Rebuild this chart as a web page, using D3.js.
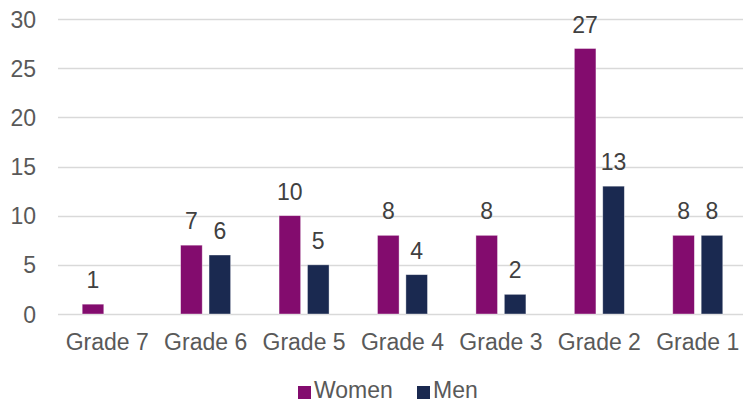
<!doctype html>
<html>
<head>
<script src="https://d3js.org/d3.v7.min.js"></script>
<style>
  body { margin: 0; background: #fff; }
  text { font-family: "Liberation Sans", Arial, sans-serif; }
</style>
</head>
<body>
<div id="chart"></div>
<script>
var categories = ["Grade 7", "Grade 6", "Grade 5", "Grade 4", "Grade 3", "Grade 2", "Grade 1"];
var series = ["Women", "Men"];
var women = [1, 7, 10, 8, 8, 27, 8];
var men = [null, 6, 5, 4, 2, 13, 8];
var yTicks = [0, 5, 10, 15, 20, 25, 30];
var colors = {"Women": "#830c6e", "Men": "#1a2950"};

var width = 743, height = 404;

var svg = d3.select("#chart").append("svg")
    .attr("width", width)
    .attr("height", height);

var x0 = d3.scaleBand().domain(categories).range([58, 747]);
var x1 = d3.scaleBand().domain(series).range([24.2, 74.2]).paddingInner(0.24);
var y = d3.scaleLinear().domain([0, 30]).range([314, 19]);

// grid
svg.append("g").selectAll("line")
    .data(yTicks)
    .enter().append("line")
    .attr("x1", 58).attr("x2", width)
    .attr("y1", function (d) { return Math.round(y(d)) + 0.5; })
    .attr("y2", function (d) { return Math.round(y(d)) + 0.5; })
    .attr("stroke", "#d9d9d9")
    .attr("stroke-width", 1.3);

// y labels
svg.append("g").selectAll("text")
    .data(yTicks)
    .enter().append("text")
    .attr("x", 36)
    .attr("y", function (d) { return y(d) + 8.5; })
    .attr("text-anchor", "end")
    .attr("font-size", "23px")
    .attr("fill", "#595959")
    .text(function (d) { return d; });

// x labels
svg.append("g").selectAll("text")
    .data(categories)
    .enter().append("text")
    .attr("x", function (d) { return x0(d) + x0.bandwidth() / 2; })
    .attr("y", 350)
    .attr("text-anchor", "middle")
    .attr("font-size", "23px")
    .attr("fill", "#595959")
    .text(function (d) { return d; });

var rows = [];
categories.forEach(function (c, i) {
    rows.push({cat: c, s: "Women", v: women[i]});
    rows.push({cat: c, s: "Men", v: men[i]});
});
rows = rows.filter(function (d) { return d.v != null; });

svg.append("g").selectAll("rect")
    .data(rows)
    .enter().append("rect")
    .attr("x", function (d) { return x0(d.cat) + x1(d.s); })
    .attr("y", function (d) { return y(d.v); })
    .attr("width", x1.bandwidth())
    .attr("height", function (d) { return y(0) - y(d.v); })
    .attr("fill", function (d) { return colors[d.s]; })
    .attr("stroke", "#ffffff")
    .attr("stroke-opacity", 0.5)
    .attr("stroke-width", 0.75);

svg.append("g").selectAll("text")
    .data(rows)
    .enter().append("text")
    .attr("x", function (d) { return x0(d.cat) + x1(d.s) + x1.bandwidth() / 2; })
    .attr("y", function (d) { return y(d.v) - 16; })
    .attr("text-anchor", "middle")
    .attr("font-size", "23px")
    .attr("fill", "#404040")
    .text(function (d) { return d.v; });

// legend
var legend = svg.append("g");
var lx = [298, 417];
series.forEach(function (s, i) {
    legend.append("rect")
        .attr("x", lx[i]).attr("y", 386)
        .attr("width", 13).attr("height", 13)
        .attr("fill", colors[s]);
    legend.append("text")
        .attr("x", lx[i] + 16)
        .attr("y", 398)
        .attr("font-size", "23px")
        .attr("fill", "#595959")
        .text(s);
});
</script>
</body>
</html>
